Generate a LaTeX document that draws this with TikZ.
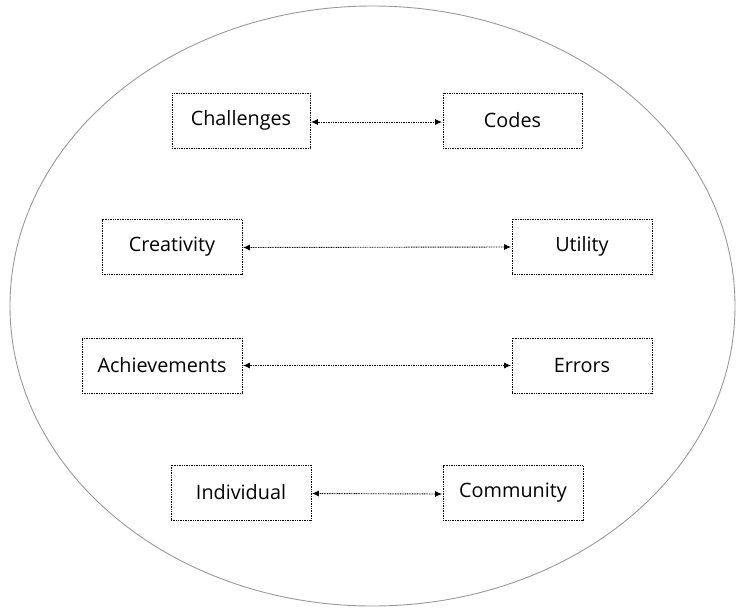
\documentclass[tikz,border=0pt]{standalone}
\usepackage{fontspec}
\setmainfont{Open Sans}
\usetikzlibrary{arrows.meta}
\begin{document}
\begin{tikzpicture}[x=1pt,y=-1pt,
  box/.style={draw=black, line width=0.9pt, dash pattern=on 0.9pt off 0.8pt,
    minimum height=55pt, inner sep=0pt, font=\fontsize{19.8}{22}\selectfont},
  link/.style={draw=black, line width=0.9pt, dash pattern=on 0.9pt off 0.8pt,
    {Latex[length=7pt,width=6pt]}-{Latex[length=7pt,width=6pt]}, shorten <=0.5pt, shorten >=0.5pt}]
\useasboundingbox (0,0) rectangle (737,611);
\draw[draw=black!40, line width=0.9pt] (372.5,306) ellipse [x radius=362.5pt, y radius=300pt];
\node[box, minimum width=138pt] (chal) at (241,120.5) {Challenges};
\node[box, minimum width=139pt] (code) at (512.5,120.5) {Codes};
\node[box, minimum width=140pt] (crea) at (172,247) {Creativity};
\node[box, minimum width=140pt] (util) at (582,246.5) {Utility};
\node[box, minimum width=160pt] (achi) at (162,365.5) {Achievements};
\node[box, minimum width=140pt] (erro) at (582,365.5) {Errors};
\node[box, minimum width=140pt] (indi) at (241,492.5) {Individual};
\node[box, minimum width=140pt] (comm) at (513,493) {Community};
\draw[link] ([yshift=-1.5pt]chal.east) -- ([yshift=-1.5pt]code.west);
\draw[link] ([yshift=-0.5pt]crea.east) -- ([yshift=-0.5pt]util.west);
\draw[link] (achi) -- (erro);
\draw[link] ([yshift=-1pt]indi.east) -- ([yshift=-1pt]comm.west);
\end{tikzpicture}
\end{document}
